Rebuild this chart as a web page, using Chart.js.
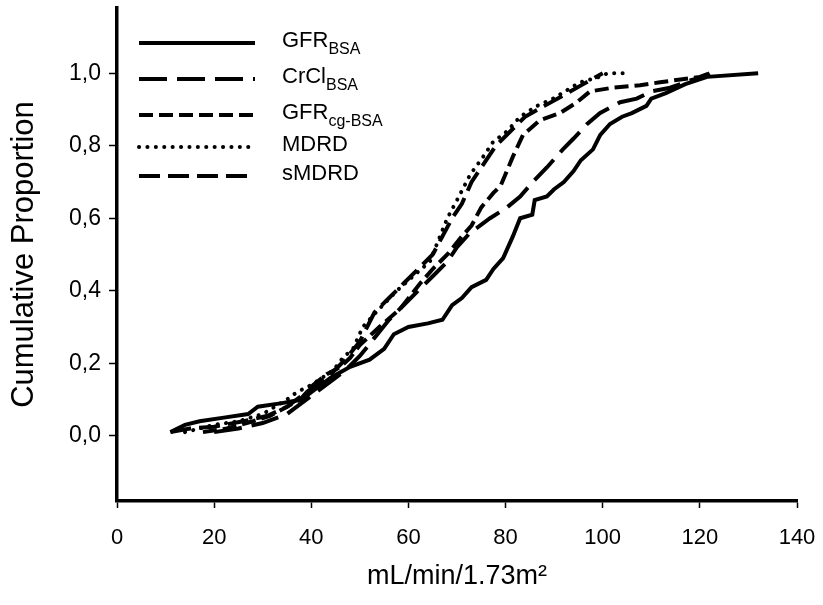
<!DOCTYPE html>
<html>
<head>
<meta charset="utf-8">
<script src="https://cdn.jsdelivr.net/npm/chart.js@4/dist/chart.umd.min.js"></script>
<style>
  body { margin: 0; background: #fff; }
  #wrap { width: 823px; height: 605px; }
</style>
</head>
<body>
<div id="wrap"><canvas id="chartCdf" width="823" height="605"></canvas></div>
<script>
// eixo x: mL/min/1.73m2, eixo y: proporção cumulativa
const xTicks = [0, 20, 40, 60, 80, 100, 120, 140];
const yTicks = [0, 0.2, 0.4, 0.6, 0.8, 1.0];

const gfrBsaX = [11, 14, 17, 22, 27, 29, 34, 38, 40, 44, 48, 52, 55, 57, 60, 64, 67, 69, 71, 73, 76, 77.5, 79.5, 81.5, 83, 85.5, 86, 88.5, 90, 92, 94, 95.5, 98, 99.5, 101.5, 104, 106, 109, 110, 113, 117, 121.5, 132];
const gfrBsaY = [0.01, 0.03, 0.04, 0.05, 0.06, 0.08, 0.09, 0.10, 0.12, 0.16, 0.19, 0.21, 0.24, 0.28, 0.30, 0.31, 0.32, 0.36, 0.38, 0.41, 0.43, 0.46, 0.49, 0.55, 0.60, 0.61, 0.65, 0.66, 0.68, 0.70, 0.73, 0.76, 0.79, 0.83, 0.86, 0.88, 0.89, 0.91, 0.93, 0.945, 0.97, 0.99, 1.0];

const crclBsaX = [20, 25, 30, 35, 38, 41, 44, 47, 50, 53, 56, 59, 62, 65, 68, 70, 72.7, 76.8, 80.3, 83, 85.6, 88.5, 91.8, 94, 96.8, 99.4, 103.6, 107, 110, 113.9, 118, 120.6, 122];
const crclBsaY = [0.01, 0.02, 0.035, 0.06, 0.09, 0.12, 0.15, 0.18, 0.22, 0.27, 0.32, 0.36, 0.40, 0.44, 0.48, 0.52, 0.56, 0.60, 0.63, 0.66, 0.70, 0.74, 0.79, 0.82, 0.86, 0.89, 0.92, 0.93, 0.95, 0.96, 0.98, 0.99, 1.0];

const gfrCgX = [17.7, 22.6, 28, 31.5, 35, 37.7, 40.4, 43.2, 46, 48, 50, 54, 58.3, 62.4, 65, 68, 71, 73, 75, 77.5, 79, 81.5, 83.6, 87, 91.2, 94.7, 97.4, 102, 107.7, 111.8, 116, 120, 122];
const gfrCgY = [0.01, 0.02, 0.04, 0.055, 0.08, 0.10, 0.14, 0.17, 0.19, 0.215, 0.25, 0.30, 0.35, 0.42, 0.46, 0.50, 0.55, 0.58, 0.63, 0.67, 0.69, 0.77, 0.83, 0.87, 0.89, 0.92, 0.95, 0.96, 0.967, 0.975, 0.983, 0.99, 1.0];

const mdrdX = [14, 17, 20, 25, 30, 35, 37, 40, 44.5, 46.5, 48.6, 50.6, 54, 57.6, 61.8, 64.4, 66.5, 68, 70, 72.7, 75.4, 77.4, 80.3, 83, 86.5, 89.8, 95.3, 99.4, 101, 105.6];
const mdrdY = [0.01, 0.02, 0.03, 0.04, 0.06, 0.10, 0.12, 0.14, 0.18, 0.215, 0.24, 0.30, 0.35, 0.40, 0.45, 0.48, 0.55, 0.60, 0.65, 0.72, 0.77, 0.81, 0.84, 0.88, 0.91, 0.93, 0.975, 0.99, 1.0, 1.0];

const smdrdX = [11, 15, 20, 26, 31, 35, 38, 41, 44, 47, 50, 53, 56, 59, 62, 65, 67, 69, 71, 73, 75.5, 78, 81, 84, 88, 92, 96, 100];
const smdrdY = [0.01, 0.02, 0.025, 0.04, 0.055, 0.08, 0.11, 0.14, 0.17, 0.21, 0.26, 0.34, 0.38, 0.42, 0.46, 0.50, 0.55, 0.60, 0.64, 0.70, 0.75, 0.80, 0.84, 0.88, 0.91, 0.94, 0.97, 1.0];

const legendMain = ['GFR', 'CrCl', 'GFR', 'MDRD', 'sMDRD'];
const legendSub = ['BSA', 'BSA', 'cg-BSA', '', ''];

function pts(xs, ys) {
    return xs.map(function (x, i) { return { x: x, y: ys[i] }; });
}

const FONT = "'Liberation Sans', Arial, sans-serif";

// legenda desenhada à mão por causa dos subscritos
const legendPlugin = {
    id: 'legendaSub',
    afterDraw(chart) {
        const ctx = chart.ctx;
        const rows = [43, 79, 115, 147, 176];
        ctx.save();
        chart.data.datasets.forEach(function (ds, i) {
            const y = rows[i];
            ctx.beginPath();
            ctx.lineWidth = ds.borderWidth;
            ctx.strokeStyle = '#000';
            ctx.lineCap = ds.borderCapStyle || 'butt';
            ctx.setLineDash(ds.borderDash || []);
            ctx.moveTo(139, y);
            ctx.lineTo(255, y);
            ctx.stroke();
            ctx.setLineDash([]);
            ctx.fillStyle = '#000';
            ctx.textBaseline = 'alphabetic';
            ctx.font = '22px ' + FONT;
            ctx.fillText(legendMain[i], 282, y + 4);
            if (legendSub[i]) {
                const w = ctx.measureText(legendMain[i]).width;
                ctx.font = '16px ' + FONT;
                ctx.fillText(legendSub[i], 282 + w, y + 11);
            }
        });
        ctx.restore();
    }
};

const commonLine = { borderColor: '#000', borderWidth: 4, pointRadius: 0, tension: 0, fill: false };

new Chart(document.getElementById('chartCdf'), {
    type: 'line',
    data: {
        datasets: [
            Object.assign({ label: 'GFR BSA', data: pts(gfrBsaX, gfrBsaY), borderDash: [] }, commonLine),
            Object.assign({ label: 'CrCl BSA', data: pts(crclBsaX, crclBsaY), borderDash: [28, 10] }, commonLine),
            Object.assign({ label: 'GFR cg-BSA', data: pts(gfrCgX, gfrCgY), borderDash: [14, 6] }, commonLine),
            Object.assign({ label: 'MDRD', data: pts(mdrdX, mdrdY), borderDash: [0.1, 8.3], borderCapStyle: 'round' }, commonLine),
            Object.assign({ label: 'sMDRD', data: pts(smdrdX, smdrdY), borderDash: [21, 8] }, commonLine)
        ]
    },
    options: {
        responsive: false,
        animation: false,
        layout: { padding: { top: 8, right: 26, left: 0, bottom: 0 } },
        plugins: {
            legend: { display: false },
            tooltip: { enabled: false }
        },
        scales: {
            x: {
                type: 'linear',
                min: 0,
                max: 140,
                afterFit: function (s) { s.height = 104; s.paddingLeft = 0; s.paddingRight = 0; },
                afterBuildTicks: function (s) { s.ticks = xTicks.map(function (v) { return { value: v }; }); },
                grid: { drawOnChartArea: false, tickLength: 7, tickColor: '#000', tickWidth: 1.5 },
                border: { color: '#000', width: 3.5 },
                ticks: { color: '#000', font: { family: FONT, size: 22 }, padding: 17, maxRotation: 0 },
                title: { display: true, text: 'mL/min/1.73m²', color: '#000', font: { family: FONT, size: 27 }, padding: { top: 0, bottom: 12 } }
            },
            y: {
                type: 'linear',
                min: -0.18,
                max: 1.18,
                afterFit: function (s) { s.width = 117; s.paddingTop = 0; s.paddingBottom = 0; },
                afterBuildTicks: function (s) { s.ticks = yTicks.map(function (v) { return { value: v }; }); },
                grid: { drawOnChartArea: false, tickLength: 8, tickColor: '#000', tickWidth: 1.5 },
                border: { color: '#000', width: 3.5 },
                ticks: {
                    color: '#000',
                    font: { family: FONT, size: 23 },
                    padding: 8,
                    callback: function (v) { return v.toFixed(1).replace('.', ','); }
                },
                title: { display: true, text: 'Cumulative Proportion', color: '#000', font: { family: FONT, size: 31 }, padding: { top: 6, bottom: 0 } }
            }
        }
    },
    plugins: [legendPlugin]
});
</script>
</body>
</html>
